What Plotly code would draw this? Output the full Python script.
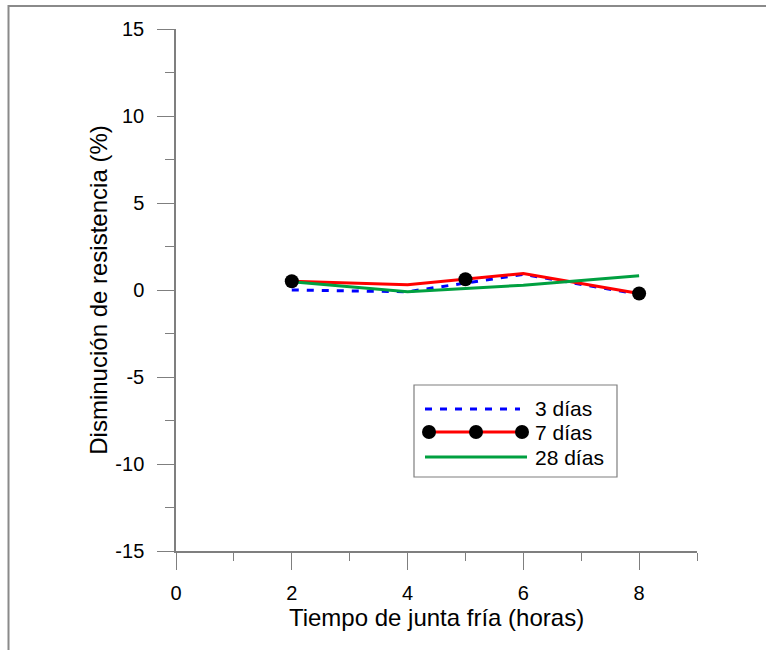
import plotly.graph_objects as go

# ---- data ----
horas = [2, 4, 6, 8]
dias3 = [0.0, -0.1, 0.9, -0.25]
dias7 = [0.5, 0.3, 0.95, -0.2]
dias28 = [0.48, -0.1, 0.28, 0.82]
horas_marcas7 = [2, 5, 8]
dias7_marcas = [0.5, 0.62, -0.2]

series_names = ["3 días", "7 días", "28 días"]
x_ticks = [0, 2, 4, 6, 8]
y_ticks = [15, 10, 5, 0, -5, -10, -15]

W, H = 766, 650
ML, MR, MT, MB = 176, 69, 29, 99
PW, PH = W - ML - MR, H - MT - MB

BLUE, RED, GREEN = "#0000FF", "#FF0000", "#00A040"
AX = "#7f7f7f"
FONT = "Liberation Sans, Arial, sans-serif"


def px(xp):
    return (xp - ML) / PW


def py(yp):
    return (H - MB - yp) / PH


fig = go.Figure()
fig.add_trace(go.Scatter(x=horas, y=dias3, mode="lines", name=series_names[0],
                         line=dict(color=BLUE, width=3, dash="7px,8px"), showlegend=False))
fig.add_trace(go.Scatter(x=horas, y=dias7, mode="lines", name=series_names[1],
                         line=dict(color=RED, width=3), showlegend=False))
fig.add_trace(go.Scatter(x=horas, y=dias28, mode="lines", name=series_names[2],
                         line=dict(color=GREEN, width=3), showlegend=False))
fig.add_trace(go.Scatter(x=horas_marcas7, y=dias7_marcas, mode="markers", name=series_names[1],
                         marker=dict(color="black", size=14), showlegend=False))

shapes = []
annotations = []
# outer frame (top and left edges visible)
shapes.append(dict(type="line", xref="paper", yref="paper", x0=px(8), x1=px(W + 5),
                   y0=py(6), y1=py(6), line=dict(color="#8a8a8a", width=2)))
shapes.append(dict(type="line", xref="paper", yref="paper", x0=px(8.5), x1=px(8.5),
                   y0=py(5), y1=py(H + 5), line=dict(color="#8a8a8a", width=2)))

# legend box
shapes.append(dict(type="rect", xref="paper", yref="paper", x0=px(414), x1=px(617),
                   y0=py(385), y1=py(477), line=dict(color="#7f7f7f", width=1.2),
                   fillcolor="white", layer="below"))
leg_y = [409, 432, 457]
shapes.append(dict(type="line", xref="paper", yref="paper", x0=px(425), x1=px(520),
                   y0=py(leg_y[0]), y1=py(leg_y[0]), line=dict(color=BLUE, width=3, dash="7px,8px")))
shapes.append(dict(type="line", xref="paper", yref="paper", x0=px(429), x1=px(522),
                   y0=py(leg_y[1]), y1=py(leg_y[1]), line=dict(color=RED, width=3)))
for mx in [429, 476, 522]:
    shapes.append(dict(type="circle", xref="paper", yref="paper", xsizemode="pixel", ysizemode="pixel",
                       xanchor=px(mx), yanchor=py(leg_y[1]), x0=-7, x1=7, y0=-7, y1=7,
                       fillcolor="black", line=dict(color="black", width=0)))
shapes.append(dict(type="line", xref="paper", yref="paper", x0=px(425), x1=px(527),
                   y0=py(leg_y[2]), y1=py(leg_y[2]), line=dict(color=GREEN, width=3)))
for name, yy in zip(series_names, leg_y):
    annotations.append(dict(text=name, xref="paper", yref="paper", x=px(533), y=py(yy),
                            xanchor="left", yanchor="middle", showarrow=False,
                            font=dict(family=FONT, size=21, color="black")))

fig.update_layout(
    width=W, height=H,
    margin=dict(l=ML, r=MR, t=MT, b=MB),
    paper_bgcolor="white", plot_bgcolor="white",
    font=dict(family=FONT, color="black", size=20),
    shapes=shapes, annotations=annotations,
    xaxis=dict(range=[0, 9], tickvals=x_ticks, ticktext=[str(v) for v in x_ticks],
               ticks="outside", ticklen=17, tickwidth=1.2, tickcolor=AX,
               showline=True, linecolor=AX, linewidth=1.5, showgrid=False, zeroline=False,
               minor=dict(dtick=1, ticks="outside", ticklen=8, tickwidth=1.2, tickcolor=AX, showgrid=False),
               tickfont=dict(size=20), ticklabelstandoff=6,
               title=dict(text="Tiempo de junta fría (horas)", font=dict(size=24), standoff=1)),
    yaxis=dict(range=[-15, 15], tickvals=y_ticks, ticktext=[str(v) for v in y_ticks],
               ticks="outside", ticklen=17, tickwidth=1.2, tickcolor=AX,
               showline=True, linecolor=AX, linewidth=1.5, showgrid=False, zeroline=False,
               minor=dict(dtick=2.5, ticks="outside", ticklen=9, tickwidth=1.2, tickcolor=AX, showgrid=False),
               tickfont=dict(size=20), ticklabelstandoff=9,
               title=dict(text="Disminución de resistencia (%)", font=dict(size=24), standoff=1)),
)

fig.write_html("out.html", config={"displayModeBar": False},
               post_script="document.body.style.margin='0';document.body.style.overflow='hidden';")
